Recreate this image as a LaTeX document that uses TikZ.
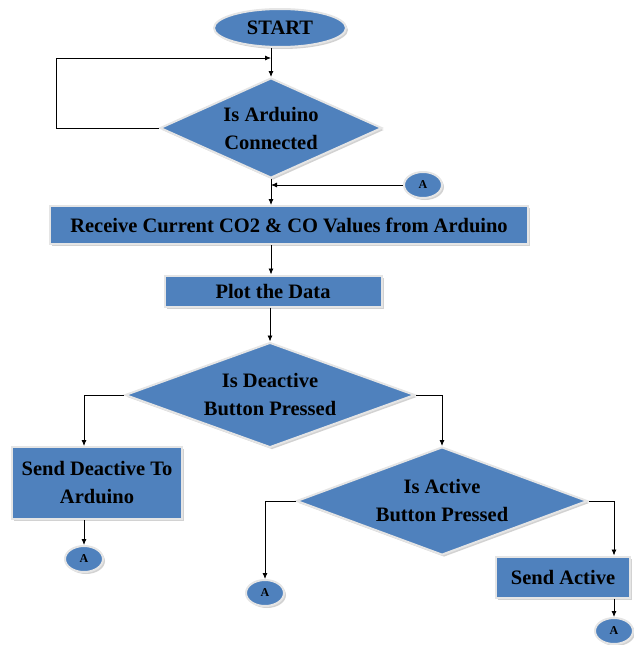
\documentclass[tikz,border=0pt]{standalone}
\usepackage{fontspec}
\setmainfont{Liberation Serif}
\usetikzlibrary{shapes.geometric,shadows,arrows.meta}

\definecolor{boxblue}{RGB}{79,129,189}

\tikzset{
  base/.style={fill=boxblue, draw=white!80!gray, line width=2pt, align=center, inner sep=0pt,
    font=\bfseries\fontsize{20.5}{28}\selectfont,
    drop shadow={shadow xshift=2pt, shadow yshift=-2pt, fill=gray!70}},
  procbox/.style={base, rectangle},
  decision/.style={base, diamond},
  terminal/.style={base, ellipse},
  connector/.style={base, ellipse, minimum width=38pt, minimum height=26pt,
    font=\bfseries\fontsize{12}{14}\selectfont},
  arrow/.style={-{Latex[length=6pt,width=5pt]}, line width=0.8pt},
}

\begin{document}
\begin{tikzpicture}[x=1pt, y=-1pt]
\useasboundingbox (0,0) rectangle (633,645);

% main column
\node[terminal, minimum width=132pt, minimum height=38pt] (start) at (280,28) {START};
\node[decision, aspect=2.2, minimum width=222pt, minimum height=100pt] (connected) at (271,128) {Is Arduino\\Connected};
\node[procbox, minimum width=478pt, minimum height=38pt] (receive) at (289,225) {Receive Current CO2 \& CO Values from Arduino};
\node[procbox, minimum width=217pt, minimum height=31pt] (plot) at (273,291) {Plot the Data};
\node[decision, aspect=2.9, minimum width=290pt, minimum height=105pt] (deactive) at (270,395) {Is Deactive\\Button Pressed};

% branches
\node[procbox, minimum width=170pt, minimum height=72pt] (sendoff) at (97,483) {Send Deactive To\\Arduino};
\node[decision, aspect=2.9, minimum width=291pt, minimum height=108pt] (active) at (442,501) {Is Active\\Button Pressed};
\node[procbox, minimum width=134pt, minimum height=41pt] (sendon) at (563,577) {Send Active};

% connectors A
\node[connector] (a1) at (423,185) {A};
\node[connector] (a2) at (84,559) {A};
\node[connector] (a3) at (265,593) {A};
\node[connector] (a4) at (614,631) {A};

\coordinate (loopin) at (271,58);

\draw[arrow] (start.south -| connected.north) -- (connected.north);
\draw[arrow] (connected.west) -- ++(-103,0) |- (loopin);
\draw[arrow] (connected.south) -- (connected.south |- receive.north);
\draw[arrow] (a1.west) -- (a1.west -| connected.south);
\draw[arrow] (receive.south -| connected.south) -- (plot.north -| connected.south);
\draw[arrow] (deactive.north |- plot.south) -- (deactive.north);

\draw[arrow] (deactive.west) -| (sendoff.north -| a2.north);
\draw[arrow] (deactive.east) -| (active.north);
\draw[arrow] (sendoff.south -| a2.north) -- (a2.north);

\draw[arrow] (active.west) -| (a3.north);
\draw[arrow] (active.east) -| (sendon.north -| a4.north);
\draw[arrow] (sendon.south -| a4.north) -- (a4.north);

\end{tikzpicture}
\end{document}
